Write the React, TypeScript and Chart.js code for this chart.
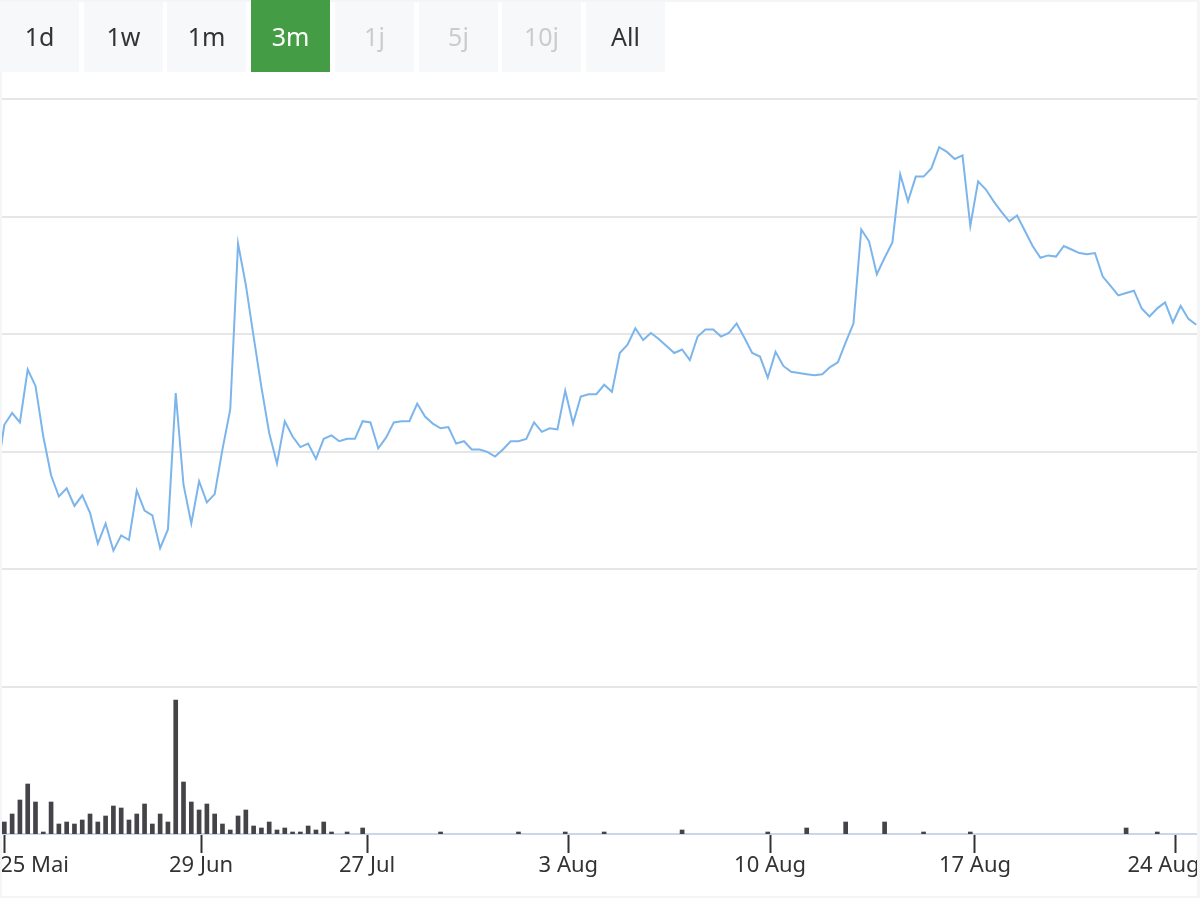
import { useEffect, useRef } from "react";
import { Chart, registerables } from "chart.js";

Chart.register(...registerables);

// ordinal point index of the first price value (one point lies left of the visible range)
const startIndex = -1;

// price line, one value per ordinal point (index -1 .. 153)
const prices = [
  37.9,
  42.3, 43.3, 42.5, 47.0, 45.6, 41.3, 38.0, 36.2, 36.9, 35.4,
  36.3, 34.8, 32.2, 33.9, 31.6, 32.9, 32.5, 36.7, 35.0, 34.6,
  31.8, 33.4, 45.0, 37.2, 33.9, 37.5, 35.7, 36.4, 40.2, 43.6,
  57.7, 54.2, 49.8, 45.5, 41.6, 39.0, 42.6, 41.3, 40.4, 40.7,
  39.4, 41.1, 41.4, 40.9, 41.1, 41.1, 42.6, 42.5, 40.3, 41.2,
  42.5, 42.6, 42.6, 44.1, 43.0, 42.4, 42.0, 42.1, 40.7, 40.9,
  40.2, 40.2, 40.0, 39.6, 40.2, 40.9, 40.9, 41.1, 42.5, 41.7,
  42.0, 41.9, 45.2, 42.4, 44.7, 44.9, 44.9, 45.7, 45.1, 48.4,
  49.1, 50.5, 49.5, 50.1, 49.6, 49.0, 48.4, 48.7, 47.8, 49.8,
  50.4, 50.4, 49.8, 50.1, 50.9, 49.7, 48.4, 48.1, 46.3, 48.5,
  47.3, 46.8, 46.7, 46.6, 46.5, 46.6, 47.2, 47.6, 49.3, 50.9,
  58.9, 57.9, 55.1, 56.5, 57.8, 63.6, 61.3, 63.4, 63.4, 64.1,
  65.9, 65.5, 64.9, 65.2, 59.2, 63.0, 62.3, 61.3, 60.4, 59.6,
  60.1, 58.8, 57.5, 56.5, 56.7, 56.6, 57.5, 57.2, 56.9, 56.8,
  56.9, 54.9, 54.1, 53.3, 53.5, 53.7, 52.2, 51.5, 52.2, 52.7,
  51.0, 52.4, 51.3, 50.8,
];

// volume, one value per ordinal point (index 0 .. 153)
const volumes = [
  6, 10, 17, 25, 16, 1, 16, 5, 6, 5,
  7, 10, 6, 9, 14, 13, 7, 10, 15, 5,
  10, 6, 67, 26, 16, 12, 15, 10, 5, 2,
  9, 12, 4, 3, 6, 2, 3, 1, 1, 4,
  2, 6, 1, 0, 1, 0, 3,
  0, 0, 0, 0, 0, 0, 0, 0, 0, 1,
  0, 0, 0, 0, 0, 0, 0, 0, 0, 1,
  0, 0, 0, 0, 0, 1, 0, 0, 0, 0,
  1, 0, 0, 0, 0, 0, 0, 0, 0, 0,
  2, 0, 0, 0, 0, 0, 0, 0, 0, 0,
  0, 1, 0, 0, 0, 0, 3, 0, 0, 0,
  0, 6, 0, 0, 0, 0, 6, 0, 0, 0,
  0, 1, 0, 0, 0, 0, 0, 1, 0, 0,
  0, 0, 0, 0, 0, 0, 0, 0, 0, 0,
  0, 0, 0, 0, 0, 0, 0, 3, 0, 0,
  0, 1, 0, 0, 0, 0, 0,
];

// date ticks on the ordinal axis
const tickLabels = ["25 Mai", "29 Jun", "27 Jul", "3 Aug", "10 Aug", "17 Aug", "24 Aug"];
const tickIndex = [0.05, 25.25, 46.57, 72.4, 98.3, 124.6, 150.4];
// where each label is anchored (edge labels are justified inside the plot)
const labelIndex = [3.88, 25.25, 46.57, 72.4, 98.3, 124.6, 148.8];

const priceGrid = [20, 30, 40, 50, 60, 70];

const ranges = ["1d", "1w", "1m", "3m", "1j", "5j", "10j", "All"];
const activeRange = "3m";
const disabledRanges = ["1j", "5j", "10j"];

const FONT = "'Noto Sans', 'Open Sans', sans-serif";

export default function App() {
  const ref = useRef<HTMLCanvasElement>(null);

  useEffect(() => {
    if (!ref.current) return;
    const chart = new Chart(ref.current, {
      type: "bar",
      data: {
        datasets: [
          {
            type: "line",
            data: prices.map((v, i) => ({ x: i + startIndex, y: v })),
            borderColor: "#7cb5ec",
            backgroundColor: "#7cb5ec",
            borderWidth: 2,
            pointRadius: 0,
            tension: 0,
            xAxisID: "x",
            yAxisID: "y",
          } as any,
          {
            type: "bar",
            data: volumes
              .map((v, i) => ({ x: i, y: v }))
              .filter((d) => d.y > 0),
            backgroundColor: "#434348",
            borderWidth: 0,
            barThickness: 4,
            xAxisID: "x",
            yAxisID: "y1",
          } as any,
        ],
      },
      options: {
        animation: false,
        responsive: false,
        events: [],
        layout: { padding: { left: 2, right: 3, top: 99, bottom: 0 } },
        plugins: {
          legend: { display: false },
          tooltip: { enabled: false },
        },
        scales: {
          x: {
            type: "linear",
            position: "bottom",
            min: -0.3,
            max: 153.1,
            bounds: "data",
            offset: false,
            weight: 0,
            grid: {
              display: true,
              offset: false,
              drawOnChartArea: false,
              drawTicks: true,
              tickLength: 19,
              tickColor: "#333333",
              tickWidth: 2,
            },
            border: { display: true, color: "#ccd6eb", width: 2 },
            ticks: { display: false, autoSkip: false },
            afterBuildTicks: (s: any) => {
              s.ticks = tickIndex.map((value) => ({ value }));
            },
            afterFit: (s: any) => {
              s.height = 19;
              s.paddingLeft = 0;
              s.paddingRight = 0;
            },
          },
          x2: {
            type: "linear",
            position: "bottom",
            min: -0.3,
            max: 153.1,
            bounds: "data",
            offset: false,
            weight: 1,
            grid: { display: false, offset: false, drawTicks: false },
            border: { display: false },
            ticks: {
              autoSkip: false,
              maxRotation: 0,
              padding: 0,
              color: "#333333",
              font: { family: FONT, size: 22 },
              callback: (_v: any, i: number) => tickLabels[i],
            },
            afterBuildTicks: (s: any) => {
              s.ticks = labelIndex.map((value) => ({ value }));
            },
            afterFit: (s: any) => {
              s.height = 45;
              s.paddingLeft = 0;
              s.paddingRight = 0;
            },
          },
          y: {
            type: "linear",
            position: "left",
            min: 7.5,
            max: 70,
            grid: { color: "#e6e6e6", lineWidth: 2, drawTicks: false },
            border: { display: false },
            ticks: { display: false },
            afterBuildTicks: (s: any) => {
              s.ticks = priceGrid.map((value) => ({ value }));
            },
          },
          y1: {
            type: "linear",
            display: false,
            min: 0,
            max: 367.5,
          },
        },
      } as any,
    });
    return () => chart.destroy();
  }, []);

  return (
    <div
      style={{
        position: "absolute",
        left: 0,
        top: 0,
        width: 1200,
        height: 898,
        fontFamily: FONT,
        background: "#ffffff",
        overflow: "hidden",
      }}
    >
      <canvas
        ref={ref}
        width={1200}
        height={898}
        style={{ position: "absolute", left: 0, top: 0, width: 1200, height: 898 }}
      />
      <div
        style={{
          position: "absolute",
          left: 0,
          top: 0,
          width: 1200,
          height: 898,
          boxSizing: "border-box",
          borderStyle: "solid",
          borderColor: "#f4f5f7",
          borderWidth: "2px 3px 2px 2px",
          pointerEvents: "none",
        }}
      />
      {ranges.map((r, i) => {
        const active = r === activeRange;
        const disabled = disabledRanges.includes(r);
        return (
          <div
            key={r}
            style={{
              position: "absolute",
              left: Math.round(i * 83.7),
              top: active ? 0 : 2,
              width: 79,
              height: active ? 72 : 70,
              background: active ? "#449d44" : "#f7f8fa",
              color: active ? "#ffffff" : disabled ? "#cccccc" : "#333333",
              fontSize: 25,
              display: "flex",
              alignItems: "center",
              justifyContent: "center",
              paddingBottom: active ? 0 : 2,
              boxSizing: "border-box",
            }}
          >
            {r}
          </div>
        );
      })}
    </div>
  );
}
